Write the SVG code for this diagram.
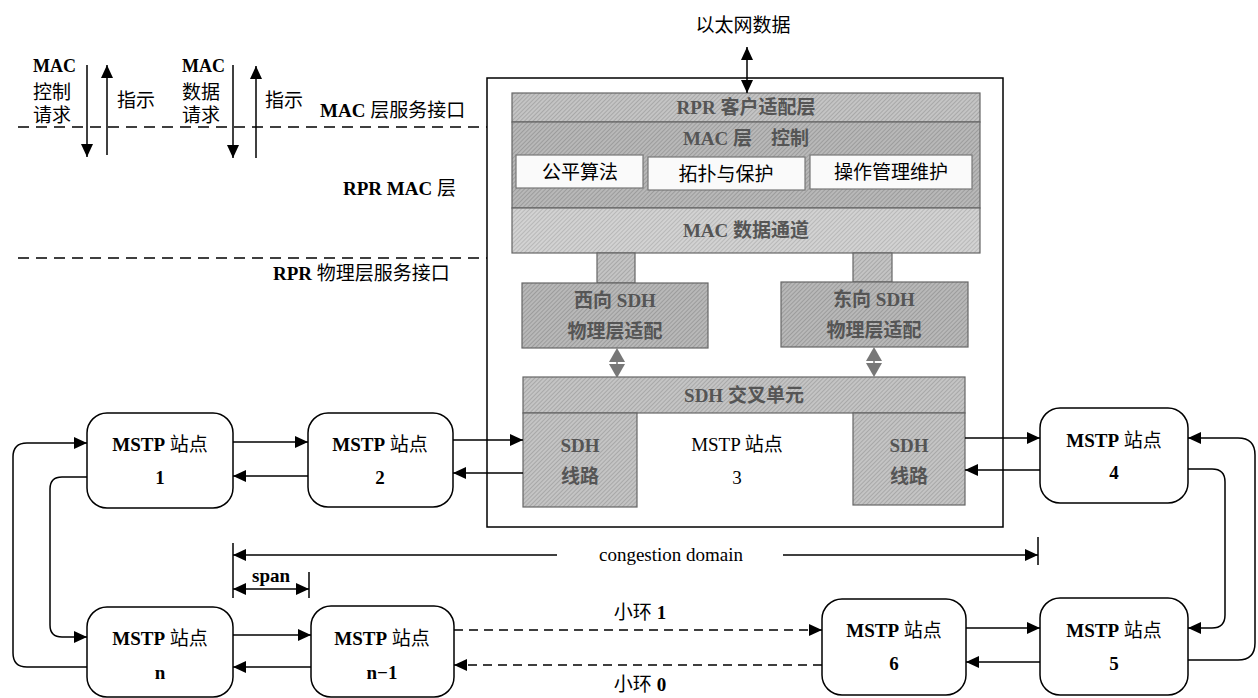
<svg xmlns="http://www.w3.org/2000/svg" width="1258" height="698" viewBox="0 0 1258 698">
<style>
.t{font-family:"Liberation Serif","Noto Sans CJK SC",serif;font-size:19px;fill:#000}
.c{font-family:"Noto Sans CJK SC","Liberation Sans",sans-serif;font-size:19px;fill:#000}
.b{font-weight:bold}
.g{font-family:"Liberation Serif","Noto Sans CJK SC",serif;font-size:19px;font-weight:bold;fill:#555}
.node{fill:#fff;stroke:#000;stroke-width:1.5}
.gray{stroke:#666;stroke-width:1.2}
.sub{fill:#fafafa;stroke:#777;stroke-width:1.2}
.ln{fill:none;stroke:#000;stroke-width:1.5}
.dash{fill:none;stroke:#000;stroke-width:1.3;stroke-dasharray:9 6}
.ld{fill:none;stroke:#000;stroke-width:1.4;stroke-dasharray:11 7}
</style>
<defs>
<marker id="a" markerUnits="userSpaceOnUse" markerWidth="14" markerHeight="12" refX="13" refY="6" orient="auto">
<path d="M0,0 L13,6 L0,12 z" fill="#000"/>
</marker>
<marker id="as" markerUnits="userSpaceOnUse" markerWidth="14" markerHeight="12" refX="13" refY="6" orient="auto-start-reverse">
<path d="M0,0 L13,6 L0,12 z" fill="#000"/>
</marker>
<pattern id="h" width="3" height="3" patternUnits="userSpaceOnUse" patternTransform="rotate(45)">
<rect width="3" height="3" fill="#c4c4c4"/>
<rect width="1" height="3" fill="#a8a8a8"/>
</pattern>
<pattern id="h2" width="3" height="3" patternUnits="userSpaceOnUse" patternTransform="rotate(45)">
<rect width="3" height="3" fill="#b8b8b8"/>
<rect width="1" height="3" fill="#9c9c9c"/>
</pattern>
<pattern id="h3" width="3" height="3" patternUnits="userSpaceOnUse" patternTransform="rotate(45)">
<rect width="3" height="3" fill="#d2d2d2"/>
<rect width="1" height="3" fill="#b8b8b8"/>
</pattern>
</defs>

<!-- interface labels and dashed lines -->
<g id="interfaces">
<line x1="18" y1="127" x2="487" y2="127" class="ld"/>
<line x1="18" y1="258" x2="487" y2="258" class="ld"/>
<text x="33" y="72" class="t"><tspan font-weight="bold" font-size="18">MAC</tspan><tspan x="33" dy="27">控制</tspan><tspan x="33" dy="23">请求</tspan></text>
<text x="117" y="107" class="c">指示</text>
<text x="182" y="72" class="t"><tspan font-weight="bold" font-size="18">MAC</tspan><tspan x="182" dy="27">数据</tspan><tspan x="182" dy="23">请求</tspan></text>
<text x="265" y="107" class="c">指示</text>
<text x="320" y="117" class="t"><tspan font-weight="bold">MAC</tspan> 层服务接口</text>
<text x="343" y="195" class="t"><tspan font-weight="bold">RPR  MAC</tspan> 层</text>
<text x="273" y="280" class="t"><tspan font-weight="bold">RPR</tspan>  物理层服务接口</text>
<text x="743" y="32" class="c" font-size="20" text-anchor="middle">以太网数据</text>
</g>

<!-- node 3 (big station) -->
<g id="node3">
<rect x="487" y="78" width="516" height="449" fill="#fff" stroke="#000" stroke-width="1.5"/>
<rect x="512" y="93" width="468" height="29" fill="url(#h)" class="gray"/>
<text x="746" y="114" class="g" text-anchor="middle">RPR 客户适配层</text>
<rect x="512" y="122" width="468" height="86" fill="url(#h2)" class="gray"/>
<text x="746" y="145" class="g" text-anchor="middle">MAC 层　控制</text>
<rect x="516" y="155" width="127" height="33" class="sub"/>
<text x="580" y="179" class="c" font-size="20" text-anchor="middle" fill="#222">公平算法</text>
<rect x="648" y="157" width="157" height="33" class="sub"/>
<text x="726" y="181" class="c" font-size="20" text-anchor="middle">拓扑与保护</text>
<rect x="810" y="155" width="162" height="34" class="sub"/>
<text x="891" y="179" class="c" font-size="20" text-anchor="middle">操作管理维护</text>
<rect x="512" y="208" width="468" height="45" fill="url(#h3)" class="gray"/>
<text x="746" y="237" class="g" text-anchor="middle">MAC 数据通道</text>
<rect x="597" y="253" width="38" height="30" fill="url(#h)" class="gray"/>
<rect x="853" y="253" width="39" height="29" fill="url(#h)" class="gray"/>
<rect x="522" y="283" width="186" height="65" fill="url(#h2)" class="gray"/>
<text x="615" y="307" class="g" text-anchor="middle">西向 SDH</text>
<text x="615" y="338" class="g" text-anchor="middle">物理层适配</text>
<rect x="781" y="282" width="187" height="65" fill="url(#h2)" class="gray"/>
<text x="874" y="306" class="g" text-anchor="middle">东向 SDH</text>
<text x="874" y="337" class="g" text-anchor="middle">物理层适配</text>
<polygon points="617,348 625,362 609,362" fill="#777"/>
<polygon points="617,378 625,364 609,364" fill="#777"/>
<line x1="617" y1="352" x2="617" y2="376" stroke="#777" stroke-width="1.5"/>
<polygon points="874,347 882,361 866,361" fill="#777"/>
<polygon points="874,377 882,363 866,363" fill="#777"/>
<line x1="874" y1="351" x2="874" y2="375" stroke="#777" stroke-width="1.5"/>
<rect x="523" y="377" width="442" height="36" fill="url(#h)" class="gray"/>
<text x="744" y="402" class="g" text-anchor="middle">SDH 交叉单元</text>
<rect x="523" y="413" width="114" height="94" fill="url(#h)" class="gray"/>
<text x="580" y="452" class="g" text-anchor="middle">SDH</text>
<text x="580" y="483" class="g" text-anchor="middle">线路</text>
<rect x="853" y="413" width="112" height="92" fill="url(#h)" class="gray"/>
<text x="909" y="452" class="g" text-anchor="middle">SDH</text>
<text x="909" y="483" class="g" text-anchor="middle">线路</text>
<text x="737" y="451" class="t" text-anchor="middle" fill="#555">MSTP 站点</text>
<text x="737" y="484" class="t" text-anchor="middle" fill="#555">3</text>
</g>

<!-- ring nodes -->
<g id="node1">
<rect x="87" y="413" width="146" height="95" rx="20" class="node"/>
<text x="160" y="451" class="t" text-anchor="middle"><tspan font-weight="bold">MSTP</tspan> 站点</text>
<text x="160" y="484" class="t b" text-anchor="middle">1</text>
</g>
<g id="node2">
<rect x="308" y="413" width="145" height="94" rx="20" class="node"/>
<text x="380" y="451" class="t" text-anchor="middle"><tspan font-weight="bold">MSTP</tspan> 站点</text>
<text x="380" y="484" class="t b" text-anchor="middle">2</text>
</g>
<g id="node4">
<rect x="1040" y="408" width="148" height="95" rx="20" class="node"/>
<text x="1114" y="447" class="t" text-anchor="middle"><tspan font-weight="bold">MSTP</tspan> 站点</text>
<text x="1114" y="479" class="t b" text-anchor="middle">4</text>
</g>
<g id="node5">
<rect x="1040" y="598" width="148" height="97" rx="20" class="node"/>
<text x="1114" y="637" class="t" text-anchor="middle"><tspan font-weight="bold">MSTP</tspan> 站点</text>
<text x="1114" y="670" class="t b" text-anchor="middle">5</text>
</g>
<g id="node6">
<rect x="822" y="599" width="144" height="96" rx="20" class="node"/>
<text x="894" y="637" class="t" text-anchor="middle"><tspan font-weight="bold">MSTP</tspan> 站点</text>
<text x="894" y="670" class="t b" text-anchor="middle">6</text>
</g>
<g id="nodeN">
<rect x="87" y="607" width="146" height="90" rx="20" class="node"/>
<text x="160" y="645" class="t" text-anchor="middle"><tspan font-weight="bold">MSTP</tspan> 站点</text>
<text x="160" y="679" class="t b" text-anchor="middle">n</text>
</g>
<g id="nodeN1">
<rect x="311" y="606" width="143" height="91" rx="20" class="node"/>
<text x="382" y="645" class="t" text-anchor="middle"><tspan font-weight="bold">MSTP</tspan> 站点</text>
<text x="382" y="679" class="t b" text-anchor="middle">n−1</text>
</g>

<!-- connectors -->
<g id="connectors">
<line x1="87" y1="65" x2="87" y2="157" class="ln" marker-end="url(#a)"/>
<line x1="107" y1="155" x2="107" y2="65" class="ln" marker-end="url(#a)"/>
<line x1="233" y1="65" x2="233" y2="158" class="ln" marker-end="url(#a)"/>
<line x1="256" y1="158" x2="256" y2="66" class="ln" marker-end="url(#a)"/>
<line x1="747" y1="47" x2="747" y2="93" class="ln" marker-start="url(#as)" marker-end="url(#a)"/>

<line x1="233" y1="442" x2="308" y2="442" class="ln" marker-end="url(#a)"/>
<line x1="308" y1="476" x2="233" y2="476" class="ln" marker-end="url(#a)"/>
<line x1="453" y1="440" x2="523" y2="440" class="ln" marker-end="url(#a)"/>
<line x1="523" y1="473" x2="453" y2="473" class="ln" marker-end="url(#a)"/>
<line x1="965" y1="438" x2="1040" y2="438" class="ln" marker-end="url(#a)"/>
<line x1="1040" y1="470" x2="965" y2="470" class="ln" marker-end="url(#a)"/>
<line x1="233" y1="635" x2="311" y2="635" class="ln" marker-end="url(#a)"/>
<line x1="311" y1="667" x2="233" y2="667" class="ln" marker-end="url(#a)"/>
<line x1="454" y1="630" x2="822" y2="630" class="dash" marker-end="url(#a)"/>
<line x1="822" y1="665" x2="454" y2="665" class="dash" marker-end="url(#a)"/>
<line x1="966" y1="628" x2="1040" y2="628" class="ln" marker-end="url(#a)"/>
<line x1="1040" y1="662" x2="966" y2="662" class="ln" marker-end="url(#a)"/>
<path d="M87,477 L62,477 Q50,477 50,489 L50,625 Q50,637 62,637 L87,637" class="ln" marker-end="url(#a)"/>
<path d="M87,667 L27,667 Q13,667 13,653 L13,457 Q13,443 27,443 L87,443" class="ln" marker-end="url(#a)"/>
<path d="M1188,469 L1212,469 Q1225,469 1225,482 L1225,615 Q1225,628 1212,628 L1188,628" class="ln" marker-end="url(#a)"/>
<path d="M1188,660 L1238,660 Q1255,660 1255,643 L1255,455 Q1255,438 1238,438 L1188,438" class="ln" marker-end="url(#a)"/>

<line x1="233" y1="543" x2="233" y2="598" class="ln"/>
<line x1="1038" y1="537" x2="1038" y2="565" class="ln"/>
<line x1="557" y1="555" x2="233" y2="555" class="ln" marker-end="url(#a)"/>
<line x1="783" y1="555" x2="1038" y2="555" class="ln" marker-end="url(#a)"/>
<line x1="309" y1="572" x2="309" y2="598" class="ln"/>
<line x1="233" y1="589" x2="309" y2="589" class="ln" marker-start="url(#as)" marker-end="url(#a)"/>
</g>

<g id="labels">
<text x="671" y="561" class="t" font-size="20" text-anchor="middle">congestion  domain</text>
<text x="271" y="582" class="t b" font-size="14" text-anchor="middle">span</text>
<text x="640" y="619" class="t" text-anchor="middle">小环 <tspan font-weight="bold">1</tspan></text>
<text x="640" y="691" class="t" text-anchor="middle">小环 <tspan font-weight="bold">0</tspan></text>
</g>
</svg>
